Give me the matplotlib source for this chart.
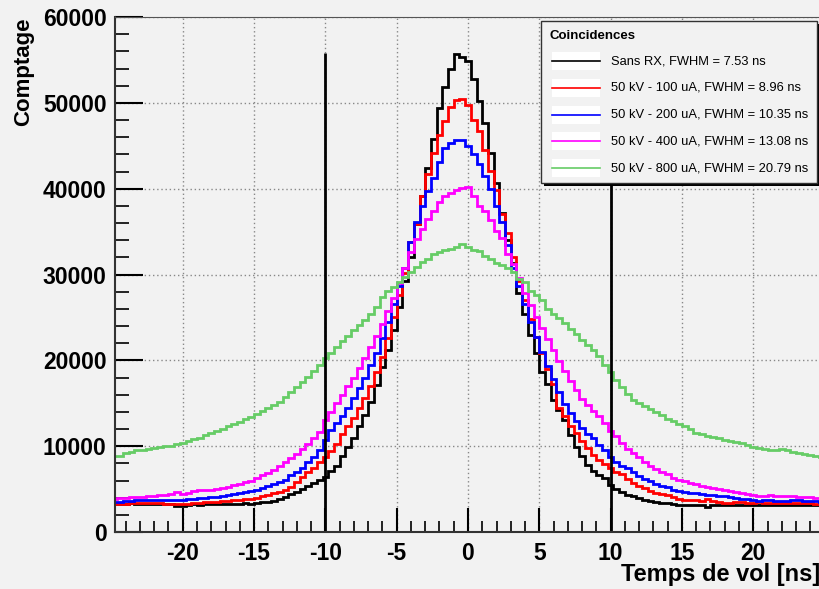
import numpy as np
import matplotlib
matplotlib.use("Agg")
import matplotlib.pyplot as plt
from matplotlib.patches import Rectangle
from matplotlib.lines import Line2D

W, H = 820, 589
plt.rcParams['font.family'] = ['Liberation Sans', 'DejaVu Sans']
plt.rcParams['axes.unicode_minus'] = False

# time of flight histograms, 0.4 ns bins from -25 to 25 ns
edges = np.round(np.arange(-25.0, 25.01, 0.4), 2)

sans_rx = [
    3300, 3250, 3300, 3350, 3300, 3250, 3300, 3300, 3250, 3300,
    3250, 3000, 3050, 3200, 3250, 3200, 3250, 3300, 3250, 3300,
    3250, 3300, 3300, 3350, 3300, 3400, 3500, 3550, 3650, 3800,
    4100, 4400, 4700, 5050, 5400, 5700, 6100, 6450, 7050, 7700,
    8800, 9900, 11000, 12300, 13600, 15200, 17100, 19200, 21200, 23500,
    26200, 29300, 32000, 35900, 39200, 42400, 45800, 49400, 51800, 54000,
    55700, 55300, 54900, 52800, 50200, 47600, 44100, 40700, 37200, 34000,
    31300, 27900, 25400, 22900, 20800, 18600, 17300, 15400, 14200, 13000,
    11300, 9900, 8800, 7800, 7100, 6600, 6300, 5500, 5000, 4700,
    4300, 4200, 4000, 3750, 3650, 3500, 3400, 3350, 3250, 3200,
    3150, 3150, 3100, 3150, 2900, 3150, 3100, 3150, 3100, 3150,
    3100, 3150, 3100, 3150, 3150, 3100, 3150, 3100, 3150, 3150,
    3100, 3150, 3100, 3150, 3150]

kv50_100ua = [
    3250, 3260, 3300, 3350, 3400, 3400, 3350, 3350, 3350, 3300,
    3300, 3250, 3250, 3300, 3350, 3400, 3450, 3500, 3530, 3560,
    3620, 3680, 3720, 3800, 3900, 4000, 4150, 4300, 4500, 4700,
    4950, 5300, 5800, 6350, 6950, 7500, 8100, 8700, 9400, 10300,
    11400, 12400, 13300, 14400, 15600, 17000, 18600, 20400, 22600, 25000,
    27600, 30200, 33800, 35900, 39200, 41700, 44200, 46300, 47900, 49500,
    50300, 50400, 49700, 48000, 46700, 44500, 42100, 39800, 37100, 34800,
    32000, 29300, 27000, 24800, 22700, 20800, 19000, 17200, 14500, 13500,
    12400, 11500, 10600, 9800, 9000, 8400, 7900, 7400, 7000, 6700,
    6200, 5700, 5400, 5100, 4800, 4600, 4450, 4300, 4100, 3900,
    3720, 3720, 3700, 3650, 3800, 3650, 3500, 3400, 3350, 3500,
    3450, 3400, 3400, 3450, 3400, 3400, 3350, 3400, 3400, 3350,
    3400, 3400, 3350, 3300, 3350]

kv50_200ua = [
    3550, 3550, 3600, 3650, 3700, 3700, 3750, 3750, 3700, 3750,
    3750, 3700, 3750, 3800, 3850, 3950, 4000, 4050, 4100, 4200,
    4350, 4450, 4550, 4650, 4800, 4950, 5150, 5350, 5600, 5850,
    6100, 6600, 7000, 7500, 8100, 8700, 9600, 10700, 11900, 12700,
    13500, 14500, 15600, 16800, 18000, 19400, 20900, 22600, 24500, 26600,
    28700, 30700, 33800, 36100, 38000, 39700, 41300, 43100, 44700, 45300,
    45700, 45700, 45000, 44000, 42900, 41500, 40000, 38000, 36100, 33400,
    30800, 28700, 26600, 24500, 22700, 21000, 19300, 17800, 16300, 14900,
    13900, 12900, 12100, 11400, 10900, 10100, 9500, 8700, 8100, 7700,
    7400, 7000, 6500, 6200, 5900, 5650, 5400, 5200, 4950, 4800,
    4700, 4600, 4500, 4450, 4350, 4300, 4200, 4150, 4100, 4000,
    3900, 3800, 3750, 3650, 3700, 3750, 3650, 3600, 3650, 3700,
    3700, 3650, 3600, 3600, 3550]

kv50_400ua = [
    3900, 3950, 4000, 4050, 4100, 4100, 4150, 4250, 4300, 4350,
    4400, 4650, 4400, 4600, 4750, 4850, 4900, 4950, 5050, 5150,
    5300, 5450, 5600, 5800, 6000, 6250, 6600, 6900, 7250, 7700,
    8200, 8650, 9100, 9700, 10300, 11000, 11700, 13000, 14000, 15000,
    16000, 17000, 18000, 19100, 20300, 21500, 22800, 24200, 25700, 27300,
    29000, 30800, 32600, 34100, 35300, 36500, 37400, 38400, 39200, 39500,
    39800, 40100, 40200, 39200, 38000, 37400, 36400, 35100, 34300, 32400,
    31200, 29600, 27800, 26400, 25100, 23800, 22500, 21200, 19900, 18700,
    17600, 16500, 15500, 14800, 14100, 13500, 12700, 11800, 11200, 10400,
    9700, 9150, 8700, 8200, 7700, 7350, 7000, 6700, 6300, 6050,
    5900, 5750, 5550, 5400, 5250, 5100, 5000, 4880, 4800, 4650,
    4500, 4400, 4300, 4250, 4250, 4300, 4250, 4200, 4200, 4150,
    4100, 4100, 4050, 4000, 4000]

kv50_800ua = [
    8870, 8870, 9150, 9300, 9500, 9550, 9700, 9750, 9900, 10000,
    10050, 10200, 10400, 10650, 10800, 11000, 11300, 11500, 11800, 12000,
    12300, 12600, 12850, 13150, 13450, 13700, 14100, 14400, 14800, 15200,
    15700, 16300, 16900, 17500, 18100, 18800, 19500, 20300, 20900, 21500,
    22200, 22800, 23500, 24100, 24700, 25400, 26200, 27400, 28100, 28600,
    29100, 29700, 30300, 30900, 31400, 31800, 32400, 32600, 32800, 33000,
    33200, 33500, 33200, 32900, 32700, 32200, 31800, 31300, 31100, 30700,
    30300, 29500, 29100, 28100, 27600, 27000, 26000, 25400, 24900, 24300,
    23700, 23100, 22400, 21800, 21200, 20500, 19500, 18600, 17700, 16900,
    16100, 15400, 15000, 14700, 14300, 14000, 13600, 13200, 12900, 12600,
    12400, 12000, 11500, 11400, 11200, 11050, 10900, 10700, 10600, 10450,
    10350, 10100, 9900, 9800, 9650, 9550, 9500, 9650, 9500, 9350,
    9250, 9050, 8950, 8800, 8750]

series = [sans_rx, kv50_100ua, kv50_200ua, kv50_400ua, kv50_800ua]
labels = ["Sans RX, FWHM = 7.53 ns",
          "50 kV - 100 uA, FWHM = 8.96 ns",
          "50 kV - 200 uA, FWHM = 10.35 ns",
          "50 kV - 400 uA, FWHM = 13.08 ns",
          "50 kV - 800 uA, FWHM = 20.79 ns"]
colors = ["black", "#ff0000", "#0000ff", "#ff00ff", "#66cc66"]

# coincidence window
cut_window = [-10, 10]
cut_height = 55800

bg = "#f2f2f2"
fig = plt.figure(figsize=(W / 100, H / 100), dpi=100, facecolor=bg)
ax = fig.add_axes([115 / W, 57 / H, 706 / W, 515 / H], facecolor=bg)

for vals, col in zip(series, colors):
    ax.stairs(vals, edges, color=col, lw=2)

ax.vlines(cut_window, 0, cut_height, color="black", lw=2)

ax.set_xlim(-24.75, 24.75)
ax.set_ylim(0, 60000)
ax.set_xticks([-20, -15, -10, -5, 0, 5, 10, 15, 20])
ax.set_xticks(np.arange(-24, 25, 1), minor=True)
ax.set_yticks(np.arange(0, 60001, 10000))
ax.set_yticks(np.arange(0, 60001, 2000), minor=True)
ax.grid(True, which="major", ls=(0, (1, 2)), color="#888888", lw=1)
ax.set_axisbelow(True)

ax.tick_params(axis="x", which="major", direction="in", length=17, width=1.5,
               labelsize=16.5, pad=7)
ax.tick_params(axis="x", which="minor", direction="in", length=8, width=1.2)
ax.tick_params(axis="y", which="major", direction="in", length=20, width=1.5,
               labelsize=16.5, pad=6)
ax.tick_params(axis="y", which="minor", direction="in", length=10, width=1.2)
for lab in ax.get_xticklabels() + ax.get_yticklabels():
    lab.set_fontweight("bold")
for s in ["left", "bottom"]:
    ax.spines[s].set_linewidth(1.5)
    ax.spines[s].set_color("#333333")
ax.spines["top"].set_color("#555555")
ax.spines["right"].set_visible(False)


def fx(x):
    return x / W


def fy(y):
    return 1 - y / H


fig.text(fx(24), fy(17), "Comptage", rotation=90, ha="center", va="top",
         fontsize=16, fontweight="bold")
fig.text(fx(820), fy(575), "Temps de vol [ns]", ha="right", va="center",
         fontsize=17, fontweight="bold")

# legend box with shadow
lx0, ly0, lx1, ly1 = 541, 21, 817, 183
fig.add_artist(Rectangle((fx(lx0 + 3), fy(ly1 + 3)), (lx1 - lx0) / W,
                         (ly1 - ly0) / H, transform=fig.transFigure,
                         facecolor="black", edgecolor="none"))
fig.add_artist(Rectangle((fx(lx0), fy(ly1)), (lx1 - lx0) / W,
                         (ly1 - ly0) / H, transform=fig.transFigure,
                         facecolor=bg, edgecolor="#333333", lw=1))
fig.text(fx(549), fy(36), "Coincidences", ha="left", va="center",
         fontsize=9.5, fontweight="bold")
for k, (lab, col) in enumerate(zip(labels, colors)):
    yc = 61 + 26.8 * k
    fig.add_artist(Rectangle((fx(552), fy(yc + 9)), 48 / W, 18 / H,
                             transform=fig.transFigure, facecolor="white",
                             edgecolor="none"))
    fig.add_artist(Line2D([fx(552), fx(600)], [fy(yc), fy(yc)],
                          transform=fig.transFigure, color=col, lw=1.2))
    fig.text(fx(611), fy(yc), lab, ha="left", va="center", fontsize=9.3)

fig.savefig("out.png", dpi=100, facecolor=bg)
